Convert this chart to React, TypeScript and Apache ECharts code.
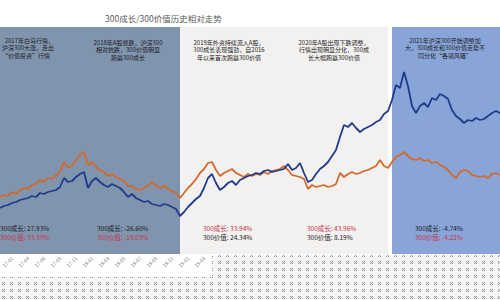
import React, { useEffect, useRef } from "react";
import * as echarts from "echarts";

// 300成长 (blue) relative index
const growthSeries = [
  0.96, 0.98, 0.99, 1.01, 1.02, 1.04, 1.05, 1.06, 1.08, 1.07, 1.11, 1.10, 1.12, 1.13, 1.14, 1.17,
  1.26, 1.22, 1.23, 1.27, 1.30, 1.32, 1.16, 1.23, 1.26, 1.22, 1.19, 1.17, 1.20, 1.18, 1.16, 1.12,
  1.07, 1.10, 1.06, 1.04, 1.02, 1.03, 1.00, 0.99, 0.98, 1.00, 0.99, 0.97, 0.95, 0.88,
  0.92, 0.97, 1.01, 1.05, 1.08, 1.16, 1.26, 1.30, 1.21, 1.14, 1.17, 1.21, 1.23, 1.19, 1.24, 1.26, 1.28, 1.29,
  1.31, 1.30, 1.33, 1.34, 1.32, 1.33, 1.34, 1.35, 1.40, 1.34, 1.36, 1.41, 1.31, 1.22, 1.24, 1.30, 1.35, 1.38, 1.42, 1.48, 1.54,
  1.67, 1.79, 1.77, 1.81, 1.76, 1.72, 1.75, 1.77, 1.79, 1.82, 1.84, 1.90, 1.93,
  2.04, 2.19, 2.16, 2.32, 2.18, 1.98, 1.91, 1.98, 2.01, 1.97, 2.06, 2.04, 2.10, 2.08, 2.05, 1.94,
  1.88, 1.85, 1.81, 1.84, 1.83, 1.86, 1.84, 1.85, 1.88, 1.91, 1.93, 1.91,
];

// 300价值 (orange) relative index
const valueSeries = [
  1.07, 1.09, 1.08, 1.12, 1.10, 1.14, 1.16, 1.15, 1.19, 1.20, 1.24, 1.22, 1.26, 1.25, 1.29, 1.32,
  1.42, 1.37, 1.38, 1.44, 1.49, 1.52, 1.39, 1.42, 1.37, 1.34, 1.32, 1.28, 1.30, 1.27, 1.25, 1.23,
  1.18, 1.18, 1.15, 1.14, 1.16, 1.18, 1.22, 1.19, 1.16, 1.18, 1.15, 1.13, 1.11, 1.06,
  1.11, 1.16, 1.20, 1.25, 1.31, 1.35, 1.41, 1.42, 1.34, 1.28, 1.31, 1.33, 1.35, 1.31, 1.29, 1.27, 1.30, 1.28,
  1.30, 1.29, 1.32, 1.30, 1.33, 1.34, 1.35, 1.38, 1.34, 1.29, 1.28, 1.27, 1.25, 1.15, 1.19, 1.17, 1.18, 1.19, 1.17, 1.18, 1.20,
  1.31, 1.27, 1.30, 1.32, 1.30, 1.31, 1.33, 1.34, 1.36, 1.38, 1.44, 1.38, 1.36,
  1.42, 1.47, 1.49, 1.52, 1.48, 1.45, 1.44, 1.46, 1.43, 1.44, 1.41, 1.42, 1.39, 1.37, 1.34, 1.29,
  1.26, 1.32, 1.34, 1.33, 1.29, 1.28, 1.27, 1.28, 1.26, 1.30, 1.31, 1.29,
];

// period shading (category index ranges)
const periodRanges = [
  [0, 45],
  [45, 97],
  [98, 125],
];
const periodColors = ["#8094ad", "#f2f1ef", "#89a4d7"];

const periodNotes = [
  ["2017年白马行情，", "沪深300大涨，走出", "“价值投资”行情"],
  ["2018年A股暴跌，沪深300", "相对抗跌，300价值明显", "跑赢300成长"],
  ["2019年外资持续流入A股，", "300成长表现强劲，自2016", "年以来首次跑赢300价值"],
  ["2020年A股出现下跌调整，", "行情出现明显分化，300成", "长大幅跑赢300价值"],
  ["2021年沪深300开始调整加", "大，300成长和300价值走势不", "同分化“各领风骚”"],
];

const growthReturns = ["27.93%", "-26.60%", "33.94%", "43.96%", "-4.74%"];
const valueReturns = ["33.33%", "-19.05%", "24.34%", "8.19%", "-4.22%"];

// dates of observations
const categories: string[] = [];
for (let i = 0; i < growthSeries.length; i++) {
  const t =
    i <= 45
      ? Date.UTC(2017, 0, 3) + i * (730 / 45) * 86400000
      : Date.UTC(2019, 0, 2) + (i - 45) * (731 / 53) * 86400000;
  const d = new Date(t);
  categories.push(
    `${d.getUTCFullYear()}-${String(d.getUTCMonth() + 1).padStart(2, "0")}-${String(d.getUTCDate()).padStart(2, "0")}`
  );
}

const FONT = "'Noto Sans CJK SC', 'Noto Sans', sans-serif";
const DARK = "#1c1c24";
const RED = "#c8344e";

export default function App() {
  const ref = useRef<HTMLDivElement>(null);

  useEffect(() => {
    if (!ref.current) return;
    const chart = echarts.init(ref.current, undefined, { renderer: "svg" });

    const c = document.createElement("canvas");
    c.width = 8;
    c.height = 7;
    const ctx = c.getContext("2d");
    if (ctx) {
      ctx.fillStyle = "#f6f6f6";
      ctx.fillRect(0, 0, 8, 7);
      ctx.fillStyle = "#8c8c8c";
      [
        [2, 2],
        [4, 2],
        [3, 3],
        [2, 4],
        [4, 4],
      ].forEach(([x, y]) => ctx.fillRect(x, y, 1, 1));
    }
    const pattern: any = { image: c.toDataURL(), repeat: "repeat" };

    const noteCenters = [0, 128, 229, 334, 445];
    const noteTops = [40, 42, 42, 42, 40];
    const LH = 7.5;
    const graphics: any[] = [];

    periodNotes.forEach((lines, k) => {
      lines.forEach((ln, j) => {
        graphics.push({
          type: "text",
          x: k === 0 ? [54, 54, 50][j] : noteCenters[k],
          y: noteTops[k] + j * LH,
          style: {
            text: ln,
            fill: DARK,
            font: `6px ${FONT}`,
            textAlign: k === 0 ? "right" : "center",
            textVerticalAlign: "middle",
          },
          z: 10,
        });
      });
    });

    const retX = [0, 97, 203, 307, 415];
    const growthRed = [false, false, true, true, false];
    growthReturns.forEach((g, k) => {
      graphics.push({
        type: "text",
        x: retX[k],
        y: 228,
        style: { text: `300成长: ${g}`, fill: growthRed[k] ? RED : DARK, font: `6.5px ${FONT}`, textAlign: "left", textVerticalAlign: "middle" },
        z: 10,
      });
      graphics.push({
        type: "text",
        x: retX[k],
        y: 236.5,
        style: { text: `300价值: ${valueReturns[k]}`, fill: growthRed[k] ? DARK : RED, font: `6.5px ${FONT}`, textAlign: "left", textVerticalAlign: "middle" },
        z: 10,
      });
    });

    graphics.push(
      { type: "rect", shape: { x: 212, y: 255, width: 288, height: 45 }, style: { fill: pattern }, z: -10 },
      { type: "rect", shape: { x: 0, y: 277, width: 212, height: 23 }, style: { fill: pattern }, z: -10 }
    );

    chart.setOption({
      animation: false,
      backgroundColor: "#ffffff",
      title: {
        text: "300成长/300价值历史相对走势",
        left: 100,
        top: 9,
        textStyle: { fontSize: 8.5, color: "#5a5a5a", fontWeight: "normal", fontFamily: FONT },
      },
      grid: { left: 0, right: 0, top: 27, bottom: 46, containLabel: false, outerBoundsMode: "none" },
      xAxis: {
        type: "category",
        data: categories,
        boundaryGap: false,
        axisLine: { show: false },
        axisTick: { show: false },
        splitLine: { show: false },
        axisLabel: {
          interval: (idx: number) => idx % 4 === 3 && idx <= 51,
          rotate: 45,
          fontSize: 5,
          color: "#777",
          margin: 3,
          fontFamily: FONT,
          formatter: (val: string) => val.slice(2, 7),
        },
      },
      yAxis: {
        type: "value",
        min: 0.5,
        max: 2.77,
        show: false,
        splitLine: { show: false },
      },
      graphic: graphics,
      series: [
        {
          name: "300价值",
          type: "line",
          data: valueSeries,
          symbol: "none",
          lineStyle: { color: "#d4692a", width: 1.8 },
          z: 3,
          markArea: {
            silent: true,
            data: periodRanges.map((r, k) => [
              { xAxis: r[0], itemStyle: { color: periodColors[k], opacity: 1 } },
              { xAxis: r[1] },
            ]),
          },
        },
        {
          name: "300成长",
          type: "line",
          data: growthSeries,
          symbol: "none",
          lineStyle: { color: "#1f3b8c", width: 1.8 },
          z: 4,
        },
      ],
    });

    return () => chart.dispose();
  }, []);

  return <div ref={ref} style={{ width: 500, height: 300, position: "absolute", left: 0, top: 0 }} />;
}
